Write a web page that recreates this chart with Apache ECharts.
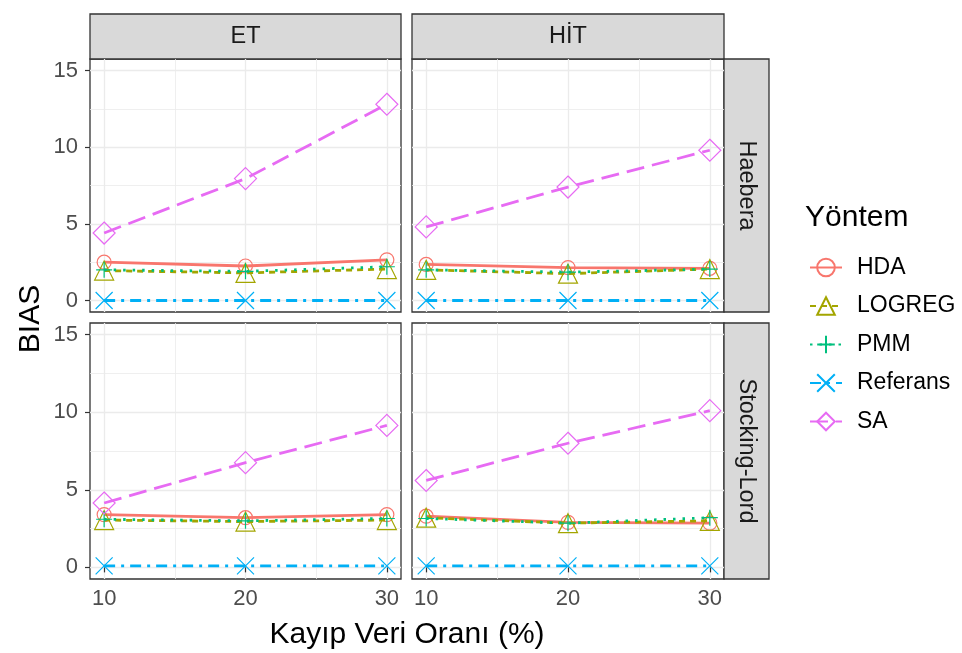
<!DOCTYPE html>
<html>
<head>
<meta charset="utf-8">
<script src="https://cdn.jsdelivr.net/npm/echarts@6/dist/echarts.min.js"></script>
<style>
  html, body { margin: 0; background: #fff; }
  #chart { width: 962px; height: 653px; }
</style>
</head>
<body>
<div id="chart"></div>
<script>
// x: kayıp veri oranı, y: BIAS
const missingRates = [10, 20, 30]
const xTicks = [10, 20, 30]
const xMinorTicks = [15, 25]
const yTicks = [0, 5, 10, 15]
const yMinorTicks = [2.5, 7.5, 12.5]
const methods = ['HDA', 'LOGREG', 'PMM', 'Referans', 'SA']
const colStrips = ['ET', 'HİT']
const rowStrips = ['Haebera', 'Stocking-Lord']

// panel sırası: ET-Haebera, HİT-Haebera, ET-Stocking-Lord, HİT-Stocking-Lord
const hda = [[2.5, 2.25, 2.65], [2.35, 2.15, 2.1], [3.4, 3.2, 3.4], [3.3, 2.9, 2.85]]
const logreg = [[1.95, 1.8, 2.05], [2.0, 1.75, 2.05], [3.05, 2.95, 3.05], [3.2, 2.85, 3.0]]
const pmm = [[2.0, 1.9, 2.2], [2.0, 1.85, 2.05], [3.1, 3.0, 3.15], [3.15, 2.85, 3.2]]
const referans = [[0, 0, 0], [0, 0, 0], [0.1, 0.1, 0.1], [0.1, 0.1, 0.1]]
const sa = [[4.4, 7.95, 12.8], [4.8, 7.4, 9.8], [4.15, 6.75, 9.15], [5.6, 8.0, 10.1]]

const FONT = 'Liberation Sans, Arial, sans-serif'
const colors = ['#F8766D', '#A3A500', '#00BF7D', '#00B0F6', '#E76BF3']
const values = [hda, logreg, pmm, referans, sa]
const symbols = [
  'circle',
  'triangle',
  'path://M10,0L10,20M0,10L20,10',
  'path://M0,0L20,20M20,0L0,20',
  'diamond',
]
const symbolSizes = [14, 19, 16, 17, 22]
const dashes = ['solid', [6, 5], [2.5, 7], [11, 6, 3, 6], [18, 8]]

// panel yerleşimi (piksel)
const panels = [
  { left: 90, top: 59, width: 311, height: 253 },
  { left: 412, top: 59, width: 312, height: 253 },
  { left: 90, top: 323, width: 311, height: 256 },
  { left: 412, top: 323, width: 312, height: 256 },
]

const grids = panels.map(p => ({
  ...p,
  show: true,
  backgroundColor: '#fff',
  borderColor: '#333',
  borderWidth: 1.3,
  containLabel: false,
}))

const xAxes = []
const yAxes = []
panels.forEach((p, i) => {
  const bottomRow = i >= 2
  const leftCol = i % 2 === 0
  // ana eksen
  xAxes.push({
    type: 'value', gridIndex: i, min: 9, max: 31,
    axisLine: { show: false },
    axisTick: { show: bottomRow, length: 5, lineStyle: { color: '#333', width: 1.2 }, customValues: xTicks },
    axisLabel: { show: bottomRow, customValues: xTicks, color: '#4D4D4D', fontSize: 22, fontFamily: FONT, margin: 9 },
    splitLine: { show: true, lineStyle: { color: '#EBEBEB', width: 1.3 } },
  })
  // ara çizgiler
  xAxes.push({
    type: 'value', gridIndex: i, min: 9, max: 31,
    axisLine: { show: false },
    axisTick: { show: false, customValues: xMinorTicks },
    axisLabel: { show: false, customValues: xMinorTicks },
    splitLine: { show: true, lineStyle: { color: '#EBEBEB', width: 0.8 } },
  })
  yAxes.push({
    type: 'value', gridIndex: i, min: -0.75, max: 15.75,
    axisLine: { show: false },
    axisTick: { show: leftCol, length: 5, lineStyle: { color: '#333', width: 1.2 }, customValues: yTicks },
    axisLabel: { show: leftCol, customValues: yTicks, color: '#4D4D4D', fontSize: 22, fontFamily: FONT, margin: 12 },
    splitLine: { show: true, lineStyle: { color: '#EBEBEB', width: 1.3 } },
  })
  yAxes.push({
    type: 'value', gridIndex: i, min: -0.75, max: 15.75,
    axisLine: { show: false },
    axisTick: { show: false, customValues: yMinorTicks },
    axisLabel: { show: false, customValues: yMinorTicks },
    splitLine: { show: true, lineStyle: { color: '#EBEBEB', width: 0.8 } },
  })
})

const series = []
panels.forEach((p, i) => {
  methods.forEach((name, m) => {
    series.push({
      name,
      type: 'line',
      xAxisIndex: 2 * i,
      yAxisIndex: 2 * i,
      data: missingRates.map((x, k) => [x, values[m][i][k]]),
      symbol: symbols[m],
      symbolSize: symbolSizes[m],
      showAllSymbol: true,
      itemStyle: { color: 'rgba(0,0,0,0)', borderColor: colors[m], borderWidth: 1.2 },
      lineStyle: { color: colors[m], width: 2.8, type: dashes[m] },
      emphasis: { disabled: true },
      z: 3 + m,
    })
  })
})

// şerit başlıkları
const graphics = []
colStrips.forEach((t, c) => {
  const p = panels[c]
  graphics.push({
    type: 'rect', shape: { x: p.left, y: 14, width: p.width, height: 45 },
    style: { fill: '#D9D9D9', stroke: '#333', lineWidth: 1.3 },
  })
  graphics.push({
    type: 'text', x: p.left + p.width / 2, y: 37,
    style: { text: t, fill: '#1A1A1A', font: '23.5px ' + FONT, textAlign: 'center', textVerticalAlign: 'middle' },
  })
})
rowStrips.forEach((t, r) => {
  const p = panels[r * 2 + 1]
  graphics.push({
    type: 'rect', shape: { x: 724, y: p.top, width: 45, height: p.height },
    style: { fill: '#D9D9D9', stroke: '#333', lineWidth: 1.3 },
  })
  graphics.push({
    type: 'text', x: 746.5, y: p.top + p.height / 2, rotation: -Math.PI / 2,
    style: { text: t, fill: '#1A1A1A', font: '23.5px ' + FONT, textAlign: 'center', textVerticalAlign: 'middle' },
  })
})
// eksen başlıkları
graphics.push({
  type: 'text', x: 407, y: 635,
  style: { text: 'Kayıp Veri Oranı (%)', fill: '#000', font: '30px ' + FONT, textAlign: 'center', textVerticalAlign: 'middle' },
})
graphics.push({
  type: 'text', x: 31, y: 319, rotation: Math.PI / 2,
  style: { text: 'BIAS', fill: '#000', font: '30px ' + FONT, textAlign: 'center', textVerticalAlign: 'middle' },
})
graphics.push({
  type: 'text', x: 805, y: 218,
  style: { text: 'Yöntem', fill: '#000', font: '30px ' + FONT, textAlign: 'left', textVerticalAlign: 'middle' },
})

const chart = echarts.init(document.getElementById('chart'), null, { renderer: 'canvas' })
chart.setOption({
  animation: false,
  backgroundColor: '#fff',
  grid: grids,
  xAxis: xAxes,
  yAxis: yAxes,
  legend: {
    data: methods,
    orient: 'vertical',
    left: 804,
    top: 251,
    itemWidth: 32,
    itemHeight: 22,
    itemGap: 15.5,
    selectedMode: false,
    textStyle: { fontSize: 23, lineHeight: 22, color: '#000', fontFamily: FONT, padding: [0, 0, 0, 10] },
  },
  graphic: graphics,
  series,
})
</script>
</body>
</html>
